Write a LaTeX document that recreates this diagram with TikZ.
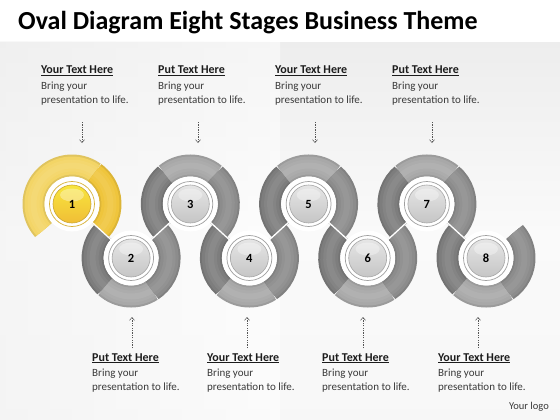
\documentclass[tikz,border=0pt]{standalone}
\usepackage{fontspec}
\setmainfont{Carlito}
\usetikzlibrary{arrows.meta,calc}
\definecolor{gdark}{HTML}{7D7D7D}
\definecolor{gmed}{HTML}{8C8C8C}
\definecolor{glight}{HTML}{A8A8A8}
\definecolor{ylight}{HTML}{F3D566}
\definecolor{ydark}{HTML}{EFC53C}
\definecolor{txthead}{HTML}{1C1C1C}
\definecolor{txtbody}{HTML}{3A3A3A}
\definecolor{arrowc}{HTML}{555555}
\newcommand\ringarc[4]{% center, start, end, width+colour
  \draw[#4] (#1) ++({-(#2)}:38.5) arc[start angle={-(#2)}, end angle={-(#3)}, radius=38.5];
}
\newcommand\ringseg[4]{% center, start math angle, end math angle, colour
  \ringarc{#1}{#2}{#3}{line width=22pt, #4!92!black}
  \ringarc{#1}{#2}{#3}{line width=18pt, #4}
  \ringarc{#1}{#2}{#3}{line width=12pt, #4!95!white}
  \ringarc{#1}{#2}{#3}{line width=6pt, #4!90!white}
}
\newcommand\topring[1]{%
  \ringseg{#1}{130}{222.4}{gdark}
  \ringseg{#1}{50}{130}{glight}
  \ringseg{#1}{-42.4}{50}{gmed}
}
\newcommand\botring[1]{%
  \ringseg{#1}{137.6}{228}{gdark}
  \ringseg{#1}{228}{303}{glight}
  \ringseg{#1}{303}{402.4}{gmed}
}
\newcommand\tblock[4]{% name, x, heading baseline y, heading
  \node[hd] (#1h) at (#2,#3) {\underline{#4}};
  \node[bd] (#1a) at (#2,#3+15) {Bring your};
  \node[bd] (#1b) at (#2,#3+29) {presentation to life.};
}
\begin{document}
\begin{tikzpicture}[x=1pt,y=-1pt,
  hd/.style={anchor=base west, inner sep=0pt, text=txthead, font=\bfseries\fontsize{12}{14}\selectfont},
  bd/.style={anchor=base west, inner sep=0pt, text=txtbody, font=\fontsize{11}{13}\selectfont},
  seam/.style={white, line width=1.3pt},
  halo/.style={circle, fill=white, minimum size=55pt, inner sep=0pt},
  ballg/.style={circle, draw=gray!75, line width=0.7pt, fill=white, minimum size=45pt, inner sep=0pt},
  bally/.style={circle, draw=ydark!90!black, line width=0.7pt, fill=white, minimum size=45pt, inner sep=0pt},
  darr/.style={arrowc, line width=0.5pt, dash pattern=on 1.3pt off 1.1pt, -{Straight Barb[length=3pt,width=5pt]}},
  num/.style={font=\bfseries\fontsize{12.5}{13}\selectfont, text=black}
]
\useasboundingbox (0,0) rectangle (560,420);
% background
\shade[top color=gray!14, bottom color=gray!6, middle color=gray!4] (0,42) rectangle (560,420);
\fill[white] (0,0) rectangle (560,42);
\shade[left color=gray!10, right color=white, opacity=0.5] (0,42) rectangle (280,420);

% title
\node[anchor=west, inner sep=0pt, font=\bfseries\fontsize{26}{30}\selectfont] (title) at (18,23) {Oval Diagram Eight Stages Business Theme};

% centres
\coordinate (c1) at (72,204);
\coordinate (c2) at (131.1,258);
\coordinate (c3) at (190.3,204);
\coordinate (c4) at (249.4,258);
\coordinate (c5) at (308.6,204);
\coordinate (c6) at (367.7,258);
\coordinate (c7) at (426.9,204);
\coordinate (c8) at (486,258);

% rings
\ringseg{c1}{54}{222.4}{ylight}
\ringseg{c1}{-42.4}{54}{ydark}
\botring{c2}
\topring{c3}
\botring{c4}
\topring{c5}
\botring{c6}
\topring{c7}
\botring{c8}

% seams
\draw[seam] (c1) -- (c2);
\draw[seam] (c2) -- (c3);
\draw[seam] (c3) -- (c4);
\draw[seam] (c4) -- (c5);
\draw[seam] (c5) -- (c6);
\draw[seam] (c6) -- (c7);
\draw[seam] (c7) -- (c8);

% halos and balls
\foreach \i in {1,...,8} {
  \node[halo] (h\i) at (c\i) {};
}
\node[bally] (o1) at (c1) {};
\foreach \i in {2,...,8} {
  \node[ballg] (o\i) at (c\i) {};
}
\shade[top color=yellow!40!ylight, bottom color=ydark!90!orange, draw=ydark!85!black, line width=0.6pt] (c1) circle[radius=19];
\fill[white, opacity=0.35] ($(c1)+(0,-9)$) ellipse[x radius=12, y radius=6.5];
\foreach \i in {2,...,8} {
  \shade[top color=gray!20, bottom color=gray!45, draw=gray!70, line width=0.6pt] (c\i) circle[radius=19];
  \fill[white, opacity=0.35] ($(c\i)+(0,-9)$) ellipse[x radius=12, y radius=6.5];
}
\foreach \i in {1,...,8} {
  \node[num] (n\i) at (c\i) {\i};
}

% text blocks
\tblock{t1}{41}{74}{Your Text Here}
\tblock{t2}{158}{74}{Put Text Here}
\tblock{t3}{275}{74}{Your Text Here}
\tblock{t4}{392}{74}{Put Text Here}
\tblock{b1}{92}{361}{Put Text Here}
\tblock{b2}{207}{361}{Your Text Here}
\tblock{b3}{322}{361}{Put Text Here}
\tblock{b4}{438}{361}{Your Text Here}

% arrows
\coordinate (ta1) at (82,122);  \coordinate (te1) at (82,143);
\coordinate (ta2) at (198,122); \coordinate (te2) at (198,143);
\coordinate (ta3) at (315,122); \coordinate (te3) at (315,143);
\coordinate (ta4) at (432,122); \coordinate (te4) at (432,143);
\coordinate (ba1) at (132,348); \coordinate (be1) at (132,317);
\coordinate (ba2) at (247,348); \coordinate (be2) at (247,317);
\coordinate (ba3) at (363,348); \coordinate (be3) at (363,317);
\coordinate (ba4) at (478,348); \coordinate (be4) at (478,317);
\foreach \i in {1,...,4} {
  \draw[darr] (ta\i) -- (te\i);
  \draw[darr] (ba\i) -- (be\i);
}

% logo
\node[anchor=base east, inner sep=0pt, text=txtbody, font=\fontsize{10.5}{12}\selectfont] (logo) at (549,409) {Your logo};
\end{tikzpicture}
\end{document}
